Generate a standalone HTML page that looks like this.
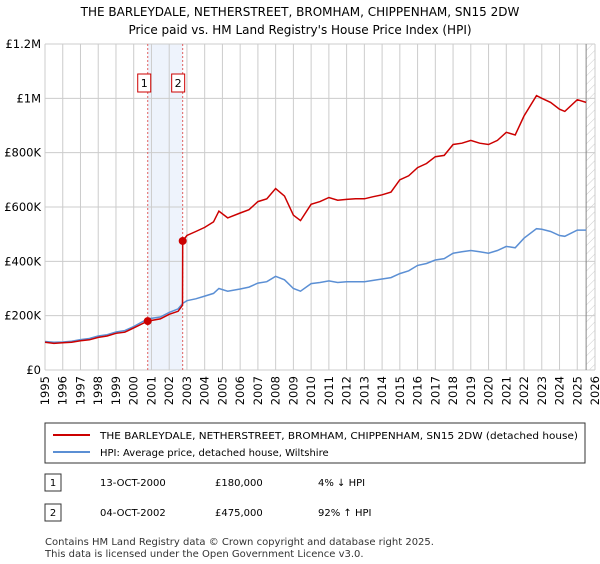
<!DOCTYPE html>
<html><head><meta charset="utf-8"><style>
body{margin:0;background:#fff;font-family:"DejaVu Sans",sans-serif;}
</style></head><body>
<svg width="600" height="560" xmlns="http://www.w3.org/2000/svg" font-family="DejaVu Sans, sans-serif">
<defs><pattern id="hatch" width="6" height="6" patternUnits="userSpaceOnUse" patternTransform="rotate(45)"><line x1="0" y1="0" x2="0" y2="6" stroke="#ccc" stroke-width="1"/></pattern></defs>
<text x="300" y="16" text-anchor="middle" font-size="12">THE BARLEYDALE, NETHERSTREET, BROMHAM, CHIPPENHAM, SN15 2DW</text>
<text x="300" y="34" text-anchor="middle" font-size="12">Price paid vs. HM Land Registry's House Price Index (HPI)</text>
<g id="plot"></g>
<g>
<rect x="45" y="423" width="540" height="40" fill="#fff" stroke="#333"/>
<line x1="53" y1="435" x2="90" y2="435" stroke="#cc0000" stroke-width="2"/>
<text x="100" y="439" font-size="10" textLength="478" lengthAdjust="spacingAndGlyphs">THE BARLEYDALE, NETHERSTREET, BROMHAM, CHIPPENHAM, SN15 2DW (detached house)</text>
<line x1="53" y1="452" x2="90" y2="452" stroke="#5b8fd4" stroke-width="2"/>
<text x="100" y="456" font-size="10">HPI: Average price, detached house, Wiltshire</text>
</g>
<g font-size="10">
<rect x="45" y="474" width="16" height="17" fill="#fff" stroke="#333"/><text x="53" y="486" text-anchor="middle">1</text>
<text x="100" y="486">13-OCT-2000</text><text x="215" y="486">£180,000</text><text x="318" y="486">4% ↓ HPI</text>
<rect x="45" y="504" width="16" height="17" fill="#fff" stroke="#333"/><text x="53" y="516" text-anchor="middle">2</text>
<text x="100" y="516">04-OCT-2002</text><text x="215" y="516">£475,000</text><text x="318" y="516">92% ↑ HPI</text>
</g>
<text x="45" y="545" font-size="10" fill="#333">Contains HM Land Registry data © Crown copyright and database right 2025.</text>
<text x="45" y="557" font-size="10" fill="#333">This data is licensed under the Open Government Licence v3.0.</text>
</svg>
<script>
const hpiYears=[1995,1995.5,1996,1996.5,1997,1997.5,1998,1998.5,1999,1999.5,2000,2000.79,2001.5,2002,2002.5,2002.76,2003,2003.5,2004,2004.5,2004.8,2005.3,2006,2006.5,2007,2007.5,2008,2008.5,2009,2009.4,2010,2010.5,2011,2011.5,2012,2012.5,2013,2013.5,2014,2014.5,2015,2015.5,2016,2016.5,2017,2017.5,2018,2018.5,2019,2019.5,2020,2020.5,2021,2021.5,2022,2022.7,2023,2023.5,2024,2024.3,2025,2025.5];
const hpiValues=[105,102,103,106,112,116,125,130,140,145,160,188,195,212,225,245,255,262,272,282,300,290,298,305,320,325,345,332,300,290,318,322,328,322,325,325,325,330,335,340,355,365,385,392,405,410,430,435,440,435,430,440,455,450,485,520,518,510,495,492,515,515];
const redYears=[1995,1995.5,1996,1996.5,1997,1997.5,1998,1998.5,1999,1999.5,2000,2000.79,2001.5,2002,2002.5,2002.75,2002.76,2003,2003.5,2004,2004.5,2004.8,2005.3,2006,2006.5,2007,2007.5,2008,2008.5,2009,2009.4,2010,2010.5,2011,2011.5,2012,2012.5,2013,2013.5,2014,2014.5,2015,2015.5,2016,2016.5,2017,2017.5,2018,2018.5,2019,2019.5,2020,2020.5,2021,2021.5,2022,2022.7,2023,2023.5,2024,2024.3,2025,2025.5];
const redValues=[102,98,100,102,108,111,120,125,135,139,155,180,188,205,216,238,475,495,510,525,545,585,560,578,590,620,630,668,640,570,550,610,620,635,625,628,630,630,638,645,655,700,715,745,760,785,790,830,835,845,835,830,845,875,865,935,1010,1000,985,960,952,995,985];
const sales=[{x:2000.79,v:180,label:"1"},{x:2002.76,v:475,label:"2"}];
const yTicks=[0,200,400,600,800,1000,1200];
const yTickLabels=["£0","£200K","£400K","£600K","£800K","£1M","£1.2M"];
const xTicks=[1995,1996,1997,1998,1999,2000,2001,2002,2003,2004,2005,2006,2007,2008,2009,2010,2011,2012,2013,2014,2015,2016,2017,2018,2019,2020,2021,2022,2023,2024,2025,2026];
const X0=45,X1=595,Y0=370,Y1=44;
const xs=t=>X0+(t-1995)/(2026-1995)*(X1-X0);
const ys=v=>Y0-v/1200*(Y0-Y1);
const NS="http://www.w3.org/2000/svg";
const g=document.getElementById('plot');
function mk(tag,attrs,parent){const e=document.createElementNS(NS,tag);for(const k in attrs)e.setAttribute(k,attrs[k]);(parent||g).appendChild(e);return e;}
let e=mk('rect',{x:xs(sales[0].x),y:Y1,width:xs(sales[1].x)-xs(sales[0].x),height:Y0-Y1,fill:'#eef3fc'});


e=mk('rect',{x:xs(2025.5),y:Y1,width:X1-xs(2025.5),height:Y0-Y1,fill:'url(#hatch)'});


yTicks.forEach((v,i)=>{
 let l=mk('line',{x1:X0,x2:X1,y1:ys(v),y2:ys(v),stroke:'#cccccc'});
 
 
 let t=mk('text',{x:X0-4,y:ys(v)+4,'text-anchor':'end','font-size':11.5});
 
 
 t.textContent=yTickLabels[i];
});
xTicks.forEach(yr=>{
 let l=mk('line',{x1:xs(yr),x2:xs(yr),y1:Y1,y2:Y0,stroke:'#cccccc'});
 
 
 let t=mk('text',{x:0,y:0,'text-anchor':'end','font-size':11.5,transform:`translate(${xs(yr)+4},${Y0+6}) rotate(-90)`});
 
 
 t.textContent=yr;
});
e=mk('line',{x1:xs(2025.5),x2:xs(2025.5),y1:Y1,y2:Y0,stroke:'#888'});


sales.forEach(s=>{
 let l=mk('line',{x1:xs(s.x),x2:xs(s.x),y1:Y1,y2:Y0,stroke:'#e06060','stroke-dasharray':'2,2'});
 
 
 let bx=s.label==="2"?xs(s.x)-11:xs(s.x)-10;
 let r=mk('rect',{x:bx,y:74,width:13,height:18,fill:'#fff',stroke:'#cc0000'});
 
 
 let t=mk('text',{x:bx+6.5,y:87,'text-anchor':'middle','font-size':11});
 
 
 t.textContent=s.label;
});
const pts=(ya,va)=>ya.map((t,i)=>xs(t).toFixed(1)+','+ys(va[i]).toFixed(1)).join(' ');
e=mk('polyline',{points:pts(hpiYears,hpiValues),fill:'none',stroke:'#5b8fd4','stroke-width':1.5});


e=mk('polyline',{points:pts(redYears,redValues),fill:'none',stroke:'#cc0000','stroke-width':1.5});


sales.forEach(s=>{
 let c=mk('circle',{cx:xs(s.x),cy:ys(s.v),r:4,fill:'#cc0000'});
 
 
});
</script>
</body></html>
